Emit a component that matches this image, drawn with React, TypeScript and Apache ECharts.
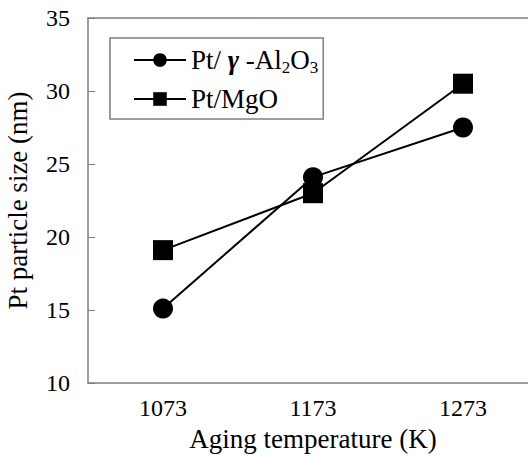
import React, { useEffect, useRef } from "react";
import * as echarts from "echarts";

const categories = ["1073", "1173", "1273"];
const seriesNames = ["Pt/γ-Al2O3", "Pt/MgO"];
const aluminaValues = [15.1, 24.1, 27.5];
const mgoValues = [19.1, 23.0, 30.5];
const yTicks = { min: 10, max: 35, interval: 5 };

const SERIF = "Liberation Serif, Times New Roman, serif";

export default function App() {
  const ref = useRef<HTMLDivElement>(null);
  useEffect(() => {
    if (!ref.current) return;
    const chart = echarts.init(ref.current, null, { renderer: "svg" });
    const grey = "#7f7f7f";
    chart.setOption({
      animation: false,
      backgroundColor: "#ffffff",
      textStyle: { fontFamily: SERIF },
      grid: {
        left: 88,
        top: 18,
        width: 450,
        bottom: 73,
        outerBoundsMode: "none",
        containLabel: false,
        show: false,
      },
      legend: {
        orient: "vertical",
        left: 110,
        top: 38,
        padding: [8, 5, 6, 23],
        itemGap: 9,
        itemWidth: 52,
        itemHeight: 17,
        borderColor: grey,
        borderWidth: 1.5,
        data: seriesNames,
        formatter: (name: string) =>
          name === seriesNames[0] ? "Pt/ {g|γ} -Al{s|2}O{s|3}" : "Pt/MgO",
        textStyle: {
          fontFamily: SERIF,
          fontSize: 27,
          color: "#000",
          lineHeight: 28,
          rich: {
            g: {
              fontFamily: SERIF,
              fontStyle: "italic",
              fontWeight: "bold",
              fontSize: 27,
              color: "#000",
              lineHeight: 28,
            },
            s: {
              fontFamily: SERIF,
              fontSize: 17,
              color: "#000",
              verticalAlign: "top",
              padding: [13, 0, 0, 0],
              lineHeight: 14,
            },
          },
        },
      },
      xAxis: [
        {
          type: "category",
          data: categories,
          boundaryGap: true,
          name: "Aging temperature (K)",
          nameLocation: "middle",
          nameGap: 42,
          nameTextStyle: { fontFamily: SERIF, fontSize: 27, color: "#000" },
          axisLine: { lineStyle: { color: grey, width: 1.5 } },
          axisTick: { inside: true, length: 6, lineStyle: { color: grey } },
          axisLabel: { fontFamily: SERIF, fontSize: 24, color: "#000", margin: 13 },
          splitLine: { show: false },
        },
        {
          type: "category",
          data: categories,
          position: "top",
          axisLine: { show: true, lineStyle: { color: grey, width: 1.5 } },
          axisTick: { show: false },
          axisLabel: { show: false },
          splitLine: { show: false },
        },
      ],
      yAxis: {
        type: "value",
        min: yTicks.min,
        max: yTicks.max,
        interval: yTicks.interval,
        name: "Pt particle size (nm)",
        nameLocation: "middle",
        nameGap: 57,
        nameTextStyle: { fontFamily: SERIF, fontSize: 27, color: "#000" },
        axisLine: { show: true, lineStyle: { color: grey, width: 1.5 } },
        axisTick: { show: true, inside: true, length: 7, lineStyle: { color: grey } },
        axisLabel: { fontFamily: SERIF, fontSize: 24, color: "#000", margin: 18 },
        splitLine: { show: false },
      },
      series: [
        {
          name: seriesNames[0],
          type: "line",
          data: aluminaValues,
          symbol: "circle",
          symbolSize: 20,
          lineStyle: { color: "#000", width: 2 },
          itemStyle: { color: "#000" },
        },
        {
          name: seriesNames[1],
          type: "line",
          data: mgoValues,
          symbol: "rect",
          symbolSize: 20,
          lineStyle: { color: "#000", width: 2 },
          itemStyle: { color: "#000" },
        },
      ],
    });
    return () => chart.dispose();
  }, []);
  return <div ref={ref} style={{ width: 528, height: 456, position: "absolute", left: 0, top: 0 }} />;
}
